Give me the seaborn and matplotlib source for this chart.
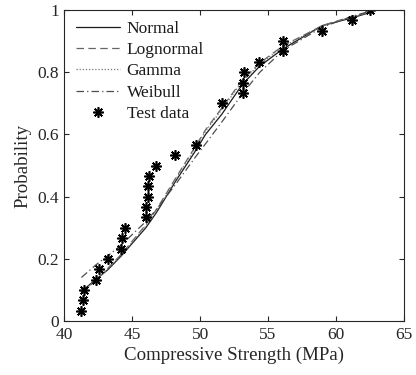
import numpy as np
import pandas as pd
import matplotlib
matplotlib.use("Agg")
import matplotlib.pyplot as plt
import seaborn as sns

# Test data (empirical CDF points)
test_x = [41.22, 41.39, 41.46, 42.32, 42.57, 43.19, 44.17, 44.24, 44.46,
          46.01, 46.03, 46.14, 46.16, 46.21, 46.77, 48.15, 49.68,
          51.59, 53.13, 53.14, 53.22, 54.36, 56.10, 56.11, 58.99, 61.18, 62.53]
test_p = [0.033, 0.067, 0.100, 0.133, 0.167, 0.200, 0.233, 0.267, 0.300,
          0.333, 0.367, 0.400, 0.433, 0.467, 0.500, 0.533, 0.567,
          0.700, 0.733, 0.767, 0.800, 0.833, 0.867, 0.900, 0.933, 0.967, 1.000]

# Fitted CDF curves
curve_x = [41.25, 42.3, 43.2, 44.2, 46.0, 46.8, 48.2, 49.7, 50.4, 51.6, 53.1, 54.4, 56.1, 59.0, 61.2, 62.5]
normal_p = [0.095, 0.133, 0.165, 0.210, 0.300, 0.350, 0.450, 0.550, 0.600, 0.665, 0.760, 0.820, 0.875, 0.950, 0.975, 0.992]
lognormal_p = [0.090, 0.130, 0.170, 0.215, 0.310, 0.360, 0.460, 0.565, 0.615, 0.685, 0.775, 0.830, 0.885, 0.950, 0.980, 0.993]
gamma_p = [0.092, 0.131, 0.168, 0.213, 0.305, 0.355, 0.455, 0.560, 0.610, 0.680, 0.770, 0.826, 0.882, 0.950, 0.978, 0.993]
weibull_p = [0.140, 0.180, 0.210, 0.245, 0.320, 0.360, 0.440, 0.530, 0.570, 0.640, 0.730, 0.800, 0.870, 0.945, 0.980, 0.996]

x_ticks = [40, 45, 50, 55, 60, 65]
y_ticks = [0, 0.2, 0.4, 0.6, 0.8, 1]
y_tick_labels = ["0", "0.2", "0.4", "0.6", "0.8", "1"]

sns.set_theme(style="white")
plt.rcParams['font.family'] = ['Liberation Serif', 'DejaVu Serif']

fig = plt.figure(figsize=(4.16, 3.75), dpi=100)
ax = fig.add_axes([0.155, 0.144, 0.815, 0.829])

series = [
    ("Normal", normal_p, "-", "0.1"),
    ("Lognormal", lognormal_p, (0, (6, 3.5)), "0.4"),
    ("Gamma", gamma_p, (0, (1, 1.5)), "0.45"),
    ("Weibull", weibull_p, (0, (6, 2.5, 1, 2.5)), "0.3"),
]
for name, vals, ls, col in series:
    df = pd.DataFrame({"x": curve_x, "p": vals})
    sns.lineplot(data=df, x="x", y="p", ax=ax, color=col, linestyle=ls,
                 linewidth=0.9, label=name, sort=False, estimator=None)

df_t = pd.DataFrame({"x": test_x, "p": test_p})
ax.plot(df_t["x"], df_t["p"], linestyle="none", marker=(8, 2, 0), markersize=7.5,
        markeredgewidth=1.2, color="black", label="Test data")

ax.set_xlim(40, 65)
ax.set_ylim(0, 1)
ax.set_xticks(x_ticks)
ax.set_yticks(y_ticks)
ax.set_yticklabels(y_tick_labels)
ax.tick_params(direction="in", length=3.5, width=0.8, labelsize=12.5,
               top=True, right=True, bottom=True, left=True, pad=4, colors="0.15")
for lab in ax.get_xticklabels() + ax.get_yticklabels():
    lab.set_color("0.15")
for s in ax.spines.values():
    s.set_visible(True)
    s.set_color("0.15")
    s.set_linewidth(0.8)
ax.set_xlabel("Compressive Strength (MPa)", fontsize=13.6, color="0.15", labelpad=3)
ax.set_ylabel("Probability", fontsize=13.6, color="0.15", labelpad=4)

leg = ax.legend(loc="upper left", frameon=False, fontsize=12.5, handlelength=2.5,
                handletextpad=0.4, labelspacing=0.3, borderaxespad=0.2,
                bbox_to_anchor=(0.004, 1.0))
for t in leg.get_texts():
    t.set_color("0.1")

fig.savefig("out.png", dpi=100)
